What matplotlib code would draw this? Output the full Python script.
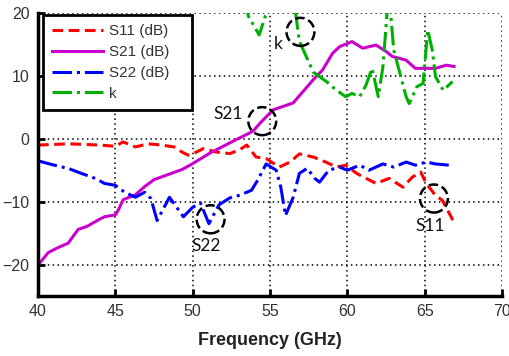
import matplotlib.pyplot as plt
from matplotlib.patches import Ellipse

plt.rcParams['font.family'] = ['Liberation Sans', 'DejaVu Sans']

# S11 (dB)
s11_f = [40, 42, 44, 45, 45.5, 46.3, 47.1, 48, 48.8, 49.3, 49.7, 50.0, 50.7, 51.5,
         52.4, 53, 53.5, 54.1, 54.75, 55.6, 56.3, 56.9, 57.8, 58.6, 59.3, 59.9,
         60.6, 61.85, 62.7, 63.6, 64.2, 64.75, 65.1, 65.7, 66.15, 66.9]
s11 = [-1.0, -0.8, -1.0, -1.2, -0.5, -1.3, -0.8, -1.0, -1.3, -2.1, -2.6, -2.4,
       -1.55, -2.1, -2.35, -1.8, -1.0, -2.9, -3.15, -4.5, -3.7, -2.4, -2.9, -3.7,
       -4.5, -4.2, -5.5, -7.1, -6.3, -7.7, -6.1, -5.3, -7.1, -9.0, -9.8, -13.3]

# S21 (dB)
s21_f = [40, 40.66, 41.3, 41.95, 42.6, 43.2, 43.9, 44.3, 45.0, 45.2, 45.5, 46.3,
         46.9, 47.5, 48.4, 49.3, 49.9, 51.1, 52.6, 53.9, 54.4, 55.2, 56.5, 57.8,
         58.4, 59.05, 59.5, 60.3, 61.0, 61.85, 62.5, 62.9, 63.8, 64.4, 65.3, 65.7,
         66.4, 66.9]
s21 = [-20.1, -18.1, -17.3, -16.6, -14.4, -13.9, -12.9, -12.4, -12.1, -11.3, -9.7,
       -8.9, -7.6, -6.5, -5.7, -4.9, -4.1, -2.3, -0.4, 1.2, 2.6, 4.6, 5.7, 9.4,
       10.95, 13.6, 14.65, 15.45, 14.4, 14.9, 13.9, 13.1, 12.5, 11.2, 11.2, 11.2,
       11.7, 11.5]

# S22 (dB)
s22_f = [40, 40.9, 42, 42.8, 43.7, 44.3, 45, 45.6, 46.3, 46.9, 47.3, 47.7, 48.5,
         49.4, 50, 50.5, 51.05, 51.7, 52.4, 53, 53.8, 54.2, 54.75, 55.4, 55.7, 56.0,
         56.5, 56.9, 57.4, 57.9, 58.2, 58.8, 59.5, 60, 60.8, 61.4, 62.3, 63, 63.8,
         64.4, 65.1, 65.7, 66.6]
s22 = [-3.5, -4.1, -4.75, -5.5, -6.3, -7.1, -7.4, -8.5, -9.3, -8.5, -9.5, -13.0,
       -9.3, -12.4, -10.9, -10.2, -13.5, -10.5, -9.4, -9.0, -8.2, -6.6, -4.0, -5.0,
       -7.7, -12.2, -9.3, -5.5, -4.7, -6.3, -6.9, -5.0, -4.5, -5.0, -4.2, -5.0,
       -4.0, -4.5, -3.7, -4.2, -3.7, -4.0, -4.2]

# stability factor k
k_f = [53.3, 53.6, 54.3, 54.7, 55.1, 56.6, 56.9, 57.8, 58.7, 59.3, 59.9, 60.3,
       60.8, 61.2, 61.6, 62.0, 62.3, 62.6, 62.8, 63.0, 63.4, 63.8, 64.0, 64.5,
       64.9, 65.2, 65.5, 65.7, 66.2, 66.8]
k = [23, 19.5, 16.5, 19.5, 21, 21, 15.5, 10.6, 9.0, 7.7, 6.7, 7.2, 6.7, 8.5,
     11.2, 6.7, 11.4, 21, 20, 14.1, 10.4, 6.7, 5.6, 8.3, 8.8, 17.3, 14.0, 9.9,
     7.7, 9.1]

# marked spots: label, circle centre, label position
marks = [('S21', 54.5, 2.8, 52.3, 4.0),
         ('k', 56.97, 17.0, 55.5, 15.1),
         ('S22', 51.16, -12.8, 50.9, -17.05),
         ('S11', 65.6, -9.5, 65.35, -13.8)]

fig = plt.figure(figsize=(5.1, 3.56), dpi=100)
ax = fig.add_axes([0.0745, 0.1685, 0.9098, 0.795])

ax.plot(s11_f, s11, color='#ff0000', lw=2.2, ls=(0, (3.5, 1.8)), label='S11 (dB)')
ax.plot(s21_f, s21, '-', color='#cc00cc', lw=2.2, label='S21 (dB)')
ax.plot(s22_f, s22, '-.', color='#0000ff', lw=2.2, label='S22 (dB)')
ax.plot(k_f, k, '-.', color='#00b000', lw=2.2, label='k')

for name, cx, cy, tx, ty in marks:
    ax.add_patch(Ellipse((cx, cy), 1.8, 4.46, fill=False, ec='black',
                         ls='--', lw=1.8, zorder=5))
    ax.text(tx, ty, name, ha='center', va='center', fontsize=12.5,
            family=['Lato', 'DejaVu Sans'], color='#111111')

ax.set_xlim(40, 70)
ax.set_ylim(-25, 20)
ax.set_xticks(range(40, 71, 5))
ax.set_yticks(range(-20, 21, 10))
ax.grid(True, color='black', ls=(0, (1, 2.2)), lw=1.1)
ax.tick_params(direction='in', length=5, width=2, labelsize=11.5,
               labelcolor='#333333', pad=6)
for side in ['top', 'right']:
    ax.spines[side].set_visible(False)
for side in ['left', 'bottom']:
    ax.spines[side].set_linewidth(2.5)

ax.set_xlabel('Frequency (GHz)', fontsize=13, fontweight='bold',
              color='#222222', labelpad=9)

leg = ax.legend(loc='upper left', bbox_to_anchor=(0.011, 0.65, 0.321, 0.343),
                mode='expand', borderaxespad=0, fancybox=False, framealpha=1,
                edgecolor='black', fontsize=11, handlelength=3.3,
                handletextpad=0.4, labelspacing=0.45, borderpad=0.6)
leg.get_frame().set_linewidth(2)
for t in leg.get_texts():
    t.set_color('#333333')

fig.savefig('out.png', dpi=100)
